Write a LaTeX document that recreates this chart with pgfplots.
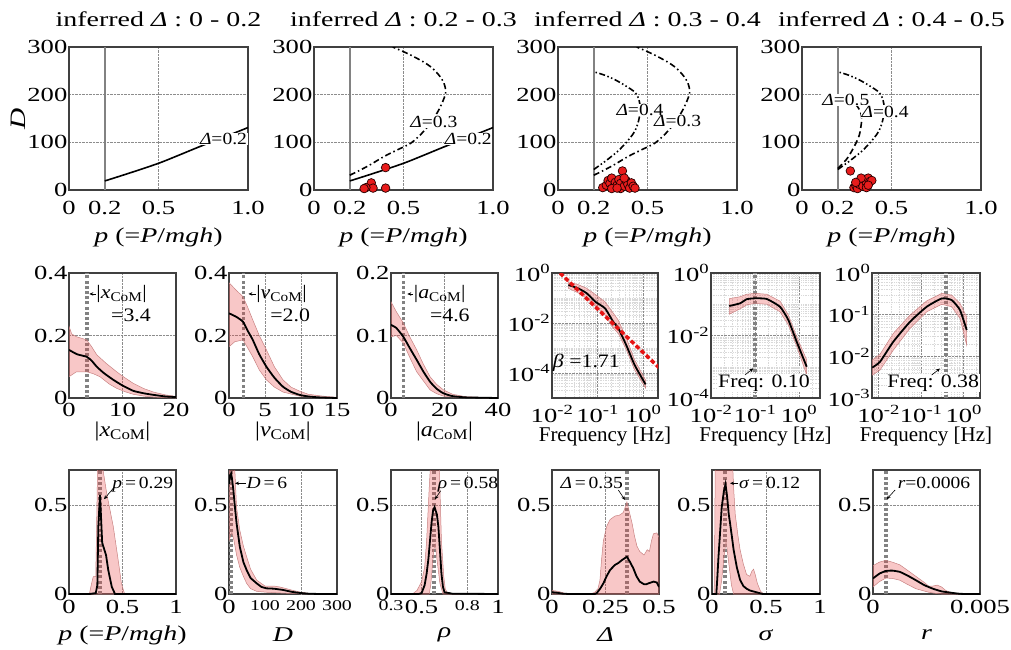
\documentclass[border=0pt]{standalone}
\usepackage{fontspec}
\setmainfont{Liberation Serif}[FakeStretch=1.15]
\newfontfamily\widefont{Liberation Serif}[FakeStretch=1.33]
\newfontfamily\narrowfont{Liberation Serif}
\usepackage{pgfplots}
\pgfplotsset{compat=1.18}
\usetikzlibrary{arrows.meta}
\definecolor{bandc}{RGB}{232,70,70}
\definecolor{bandl}{RGB}{200,130,130}
\definecolor{vgray}{RGB}{130,130,130}
\definecolor{mred}{RGB}{232,28,28}
\definecolor{fitred}{RGB}{230,20,20}
\newcommand\fs[1]{\fontsize{#1}{#1}\selectfont}
\newcommand\sm[1]{{\fs{15}\raisebox{-2.5pt}{#1}}}
\tikzset{
  lab/.style={font=\fs{17}, fill=white, inner sep=0.6pt},
  ann/.style={font=\fs{17}, inner sep=0.5pt},
  annb/.style={font=\fs{19}, inner sep=0.5pt},
  arr/.style={-{Stealth[length=4pt,width=3.5pt]}, line width=0.6pt, black},
}
\pgfplotsset{
  base/.style={scale only axis, anchor=south west,
    axis line style={line width=1.2pt, draw=black!75},
    major tick length=0pt, minor tick length=0pt,
    tick label style={font=\widefont\fs{20}},
    label style={font=\widefont\fs{20}},
    grid style={densely dotted, line width=0.7pt, black!45},
    minor grid style={densely dotted, line width=0.5pt, black!15},
    scaled ticks=false,
    /pgf/number format/assume math mode=true,
    xlabel style={at={(axis description cs:0.5,0)}, anchor=center},
    yticklabel style={inner xsep=1.5pt},
  },
  top/.style={base, width=179pt, height=143pt, xmin=0, xmax=1, ymin=0, ymax=300,
    xtick={0,0.2,0.5,1}, xticklabels={0,0.2,0.5,1.0},
    ytick={0,100,200,300}, yticklabels={0,100,200,300},
    grid=major,
    xlabel={\textit{p} (=\textit{P}/\textit{mgh})}, xlabel style={yshift=-47pt, font=\widefont\fs{21}},
    xticklabel style={yshift=-8pt},
    title style={font=\widefont\fs{21}, at={(axis description cs:0.5,1)}, anchor=center, yshift=22pt},
  },
  mid/.style={base, width=107pt, height=125pt, grid=major,
    xticklabel style={yshift=-2pt}, xlabel style={yshift=-33pt, font=\fs{21}}},
  psd/.style={mid, xmin=0.01, xmax=2.1,
    xtick={0.01,0.1,1}, xticklabels={10\textsuperscript{-2},10\textsuperscript{-1},10\textsuperscript{0}},
    minor xtick={0.007,0.008,0.009,0.02,0.03,0.04,0.05,0.06,0.07,0.08,0.09,0.2,0.3,0.4,0.5,0.6,0.7,0.8,0.9,2},
    xticklabel style={yshift=-2pt},
    grid=both, xlabel={Frequency [Hz]}, xlabel style={yshift=-5pt, font=\narrowfont\fs{21}}},
  bot/.style={base, width=107pt, height=124pt, ymin=0, ymax=0.7, ytick={0,0.5}, yticklabels={0,0.5},
    grid=major, xticklabel style={yshift=-3pt}, xlabel style={yshift=-41pt, font=\widefont\fs{21}}},
  band/.style={fill=bandc, fill opacity=0.3, draw=bandl, line width=0.5pt},
  meanl/.style={black, line width=1.8pt},
  vdot/.style={vgray, line width=3.5pt, dash pattern=on 3pt off 2.2pt},
  vsolid/.style={vgray, line width=1.8pt},
  dd/.style={black, line width=1.6pt, smooth, tension=0.5, dash pattern=on 6pt off 3pt on 1.5pt off 3pt},
  ddd/.style={black, line width=1.6pt, smooth, tension=0.5, dash pattern=on 6pt off 2.5pt on 1.5pt off 2.5pt on 1.5pt off 2.5pt},
  dsh/.style={black, line width=1.6pt, smooth, tension=0.5, dash pattern=on 6pt off 3.5pt},
  sol/.style={black, line width=1.6pt, smooth},
  dots/.style={only marks, mark=*, mark size=4.3pt, mark options={fill=mred, draw=black!85!red, line width=0.7pt}},
}
\pgfplotstableread{
p D
0.2 19
0.35 37
0.5 56
0.62 74
0.73 91
0.86 110
1.0 131
}\curveA
\pgfplotstableread{
p D
0.2 31
0.3 50
0.39 70
0.47 85
0.54 98
0.60 118
0.65 140
0.70 170
0.735 203
0.725 225
0.70 240
0.66 256
0.61 269
0.53 285
0.44 300
}\curveB
\pgfplotstableread{
p D
0.2 43
0.27 62
0.33 80
0.36 91
0.40 108
0.43 124
0.45 145
0.46 170
0.45 192
0.43 205
0.38 218
0.32 231
0.26 241
0.2 248
}\curveC
\pgfplotstableread{
p D
0.2 45
0.25 65
0.29 90
0.32 115
0.333 145
0.33 160
0.31 175
0.26 190
0.2 200
}\curveD
\begin{document}
\begin{tikzpicture}
\useasboundingbox (0,0) rectangle (1011pt,649pt);

% ---------------- top row ----------------
\begin{axis}[top, at={(69pt,459pt)}, title={inferred \textit{Δ} : 0 - 0.2},
  ylabel={\textit{D}}, ylabel style={at={(axis description cs:-0.285,0.5)}, anchor=center, font=\widefont\fs{22}}]
\addplot[vsolid] coordinates {(0.2,0) (0.2,300)};
\addplot[sol] table[x=p,y=D] {\curveA};
\node[lab] at (axis cs:0.863,107) {\textit{Δ}=0.2};
\end{axis}

\begin{axis}[top, at={(314pt,459pt)}, title={inferred \textit{Δ} : 0.2 - 0.3}]
\addplot[vsolid] coordinates {(0.2,0) (0.2,300)};
\addplot[sol] table[x=p,y=D] {\curveA};
\addplot[dd] table[x=p,y=D] {\curveB};
\node[lab] at (axis cs:0.67,143) {\textit{Δ}=0.3};
\node[lab] at (axis cs:0.862,107) {\textit{Δ}=0.2};
\addplot[dots] coordinates {(0.40,47) (0.32,15) (0.33,4) (0.29,5) (0.28,3) (0.40,4)};
\end{axis}

\begin{axis}[top, at={(558pt,459pt)}, title={inferred \textit{Δ} : 0.3 - 0.4}]
\addplot[vsolid] coordinates {(0.2,0) (0.2,300)};
\addplot[dd] table[x=p,y=D] {\curveB};
\addplot[ddd] table[x=p,y=D] {\curveC};
\node[lab] at (axis cs:0.458,168) {\textit{Δ}=0.4};
\node[lab] at (axis cs:0.668,144) {\textit{Δ}=0.3};
\addplot[dots] coordinates {(0.25,5) (0.27,10) (0.28,20) (0.29,14) (0.30,25) (0.31,6) (0.32,16) (0.33,10) (0.34,22) (0.35,3) (0.35,14) (0.36,40) (0.37,8) (0.38,20) (0.39,12) (0.40,4) (0.41,15) (0.42,8) (0.43,4) (0.30,3) (0.37,25) (0.33,4)};
\end{axis}

\begin{axis}[top, at={(802pt,459pt)}, title={inferred \textit{Δ} : 0.4 - 0.5}]
\addplot[vsolid] coordinates {(0.2,0) (0.2,300)};
\addplot[ddd] table[x=p,y=D] {\curveC};
\addplot[dsh] table[x=p,y=D] {\curveD};
\node[lab] at (axis cs:0.245,189) {\textit{Δ}=0.5};
\node[lab] at (axis cs:0.464,164) {\textit{Δ}=0.4};
\addplot[dots] coordinates {(0.27,40) (0.29,5) (0.30,10) (0.31,3) (0.32,12) (0.33,18) (0.34,8) (0.35,22) (0.36,14) (0.37,25) (0.38,18) (0.39,20) (0.36,5) (0.33,25) (0.30,16) (0.37,10)};
\end{axis}

% ---------------- middle row ----------------
\begin{axis}[mid, at={(69pt,251pt)}, xmin=0, xmax=20, ymin=0, ymax=0.4,
  xtick={0,10,20}, xticklabels={0,10,20}, ytick={0,0.2,0.4}, yticklabels={0,0.2,0.4},
  xlabel={|\textit{x}\textsubscript{CoM}|}]
\addplot[vdot] coordinates {(3.4,0) (3.4,0.4)};
\addplot[band] coordinates {(0,0.23) (0.5,0.205) (1.4,0.196) (3.3,0.186) (4.2,0.165) (5.2,0.138) (7,0.11) (8.9,0.084) (10,0.07) (12,0.047) (14,0.03) (15.8,0.019) (18,0.01) (20,0.005)
 (20,0) (18,0.001) (15.8,0.003) (14,0.006) (12,0.012) (10.5,0.02) (8.9,0.031) (7.5,0.045) (5.8,0.068) (4.5,0.078) (3.3,0.084) (1.4,0.084) (0,0.068)} -- cycle;
\addplot[meanl, smooth, tension=0.3] coordinates {(0,0.154) (1.5,0.14) (3.3,0.132) (4.2,0.12) (5.2,0.10) (6.5,0.08) (8.3,0.058) (10,0.04) (12,0.023) (14,0.015) (15.8,0.01) (18,0.005) (20,0.003)};
\draw[arr] (axis cs:5.0,0.333) -- (axis cs:3.8,0.333);
\node[annb, anchor=west] at (axis cs:5.0,0.333) {|\textit{x}\textsubscript{CoM}|};
\node[annb] at (axis cs:11.6,0.266) {=3.4};
\end{axis}

\begin{axis}[mid, at={(229pt,251pt)}, width=108pt, xmin=0, xmax=15, ymin=0, ymax=0.4,
  xtick={0,5,10,15}, xticklabels={0,5,10,15}, ytick={0,0.2,0.4}, yticklabels={0,0.2,0.4},
  xlabel={|\textit{v}\textsubscript{CoM}|}]
\addplot[vdot] coordinates {(2.0,0) (2.0,0.4)};
\addplot[band] coordinates {(0,0.369) (1,0.345) (1.95,0.324) (2.6,0.29) (3.3,0.25) (4.2,0.2) (5.2,0.154) (6.3,0.1) (7.5,0.058) (8.6,0.035) (9.8,0.022) (11,0.012) (13,0.006) (15,0.002)
 (15,0) (12,0.001) (9.8,0.006) (7.5,0.019) (6.3,0.035) (5.2,0.058) (4.2,0.09) (3.3,0.132) (2.6,0.16) (1.95,0.186) (0.8,0.18) (0,0.164)} -- cycle;
\addplot[meanl, smooth, tension=0.3] coordinates {(0,0.271) (1,0.26) (1.95,0.244) (2.6,0.215) (3.3,0.186) (4.2,0.14) (5.2,0.10) (6.3,0.065) (7.5,0.036) (8.6,0.02) (9.8,0.01) (11,0.005) (12.5,0.002) (15,0)};
\draw[arr] (axis cs:3.7,0.333) -- (axis cs:2.7,0.333);
\node[annb, anchor=west] at (axis cs:3.7,0.333) {|\textit{v}\textsubscript{CoM}|};
\node[annb] at (axis cs:8.5,0.266) {=2.0};
\end{axis}

\begin{axis}[mid, at={(391pt,251pt)}, xmin=0, xmax=40, ymin=0, ymax=0.2,
  xtick={0,20,40}, xticklabels={0,20,40}, ytick={0,0.1,0.2}, yticklabels={0,0.1,0.2},
  xlabel={|\textit{a}\textsubscript{CoM}|}]
\addplot[vdot] coordinates {(4.6,0) (4.6,0.2)};
\addplot[band] coordinates {(0,0.154) (2,0.138) (4.6,0.12) (7,0.098) (9.6,0.077) (12,0.055) (14.6,0.034) (17,0.022) (19.6,0.013) (23,0.006) (28,0.002) (40,0)
 (40,0) (25,0.001) (19.6,0.003) (17,0.007) (14.6,0.013) (12,0.028) (9.6,0.042) (7,0.065) (4.6,0.088) (2,0.1) (0,0.098)} -- cycle;
\addplot[meanl, smooth, tension=0.3] coordinates {(0,0.117) (2,0.112) (4.6,0.098) (7,0.08) (9.6,0.061) (12,0.043) (14.6,0.026) (17,0.015) (19.6,0.0075) (23,0.003) (28,0.001) (40,0)};
\draw[arr] (axis cs:8.3,0.1664) -- (axis cs:6.1,0.1664);
\node[annb, anchor=west] at (axis cs:8.3,0.1664) {|\textit{a}\textsubscript{CoM}|};
\node[annb] at (axis cs:22,0.133) {=4.6};
\end{axis}

\begin{loglogaxis}[psd, at={(552pt,251pt)}, width=106pt, ymin=1e-5, ymax=1,
  ytick={1e-4,1e-2,1}, yticklabels={10\textsuperscript{-4},10\textsuperscript{-2},10\textsuperscript{0}},
  minor ytick={2e-5,3e-5,4e-5,5e-5,6e-5,7e-5,8e-5,9e-5,2e-4,3e-4,4e-4,5e-4,6e-4,7e-4,8e-4,9e-4,1e-3,2e-3,3e-3,4e-3,5e-3,6e-3,7e-3,8e-3,9e-3,2e-2,3e-2,4e-2,5e-2,6e-2,7e-2,8e-2,9e-2,1e-1,2e-1,3e-1,4e-1,5e-1,6e-1,7e-1,8e-1,9e-1}]
\addplot[band] coordinates {(0.0229,0.447) (0.038,0.339) (0.0575,0.245) (0.0891,0.138) (0.1445,0.0708) (0.219,0.025) (0.282,0.0132) (0.427,0.00245) (0.646,3.3e-4) (1.12,5.2e-5)
 (1.12,2.5e-5) (0.646,1.32e-4) (0.427,8.3e-4) (0.282,0.00389) (0.219,0.0063) (0.1445,0.0209) (0.0891,0.0468) (0.0575,0.0977) (0.038,0.158) (0.0229,0.245)} -- cycle;
\addplot[meanl, smooth, tension=0.3] coordinates {(0.0229,0.331) (0.038,0.24) (0.0575,0.155) (0.0891,0.0708) (0.1445,0.0389) (0.219,0.0112) (0.282,0.0063) (0.427,0.00126) (0.646,2.09e-4) (1.12,3.5e-5)};
\addplot[fitred, line width=3.5pt, dash pattern=on 4.5pt off 2.5pt] coordinates {(0.01496,1.0) (2.29,1.55e-4)};
\node[annb] at (axis cs:0.0566,2.5e-4) {\textit{β} =1.71};
\end{loglogaxis}

\begin{loglogaxis}[psd, at={(711pt,251pt)}, width=109pt, xmax=3.0, ymin=1e-4, ymax=1,
  ytick={1e-4,1e-2,1}, yticklabels={10\textsuperscript{-4},10\textsuperscript{-2},10\textsuperscript{0}},
  minor ytick={2e-4,3e-4,4e-4,5e-4,6e-4,7e-4,8e-4,9e-4,1e-3,2e-3,3e-3,4e-3,5e-3,6e-3,7e-3,8e-3,9e-3,2e-2,3e-2,4e-2,5e-2,6e-2,7e-2,8e-2,9e-2,1e-1,2e-1,3e-1,4e-1,5e-1,6e-1,7e-1,8e-1,9e-1}]
\addplot[vdot] coordinates {(0.1,1e-4) (0.1,1)};
\addplot[band] coordinates {(0.026,0.151) (0.0456,0.174) (0.0647,0.209) (0.1,0.224) (0.1845,0.209) (0.37,0.126) (0.571,0.0457) (0.887,0.0091) (1.496,0.00166)
 (1.496,5.5e-4) (0.887,0.00447) (0.571,0.0219) (0.37,0.0575) (0.1845,0.1) (0.1,0.107) (0.0647,0.0955) (0.0456,0.0708) (0.026,0.0479)} -- cycle;
\addplot[meanl, smooth, tension=0.3] coordinates {(0.026,0.0879) (0.0456,0.107) (0.0647,0.145) (0.1,0.155) (0.1845,0.148) (0.37,0.0832) (0.571,0.0316) (0.887,0.0063) (1.496,0.001)};
\node[annb, fill=white] at (axis cs:0.160,2.95e-4) {Freq: 0.10};
\draw[arr] (axis cs:0.0593,5.5e-4) -- (axis cs:0.0914,8.9e-4);
\end{loglogaxis}

\begin{loglogaxis}[psd, at={(872pt,251pt)}, width=108pt, xmin=0.007, xmax=2.4, ymin=1e-3, ymax=1,
  ytick={1e-3,1e-2,1e-1,1}, yticklabels={10\textsuperscript{-3},10\textsuperscript{-2},10\textsuperscript{-1},10\textsuperscript{0}},
  minor ytick={2e-3,3e-3,4e-3,5e-3,6e-3,7e-3,8e-3,9e-3,2e-2,3e-2,4e-2,5e-2,6e-2,7e-2,8e-2,9e-2,2e-1,3e-1,4e-1,5e-1,6e-1,7e-1,8e-1,9e-1}]
\addplot[vdot] coordinates {(0.38,1e-3) (0.38,1)};
\addplot[band] coordinates {(0.0071,0.00813) (0.0108,0.0112) (0.0221,0.0355) (0.0546,0.0977) (0.1346,0.214) (0.303,0.324) (0.52,0.295) (0.815,0.186) (1.17,0.0891)
 (1.17,0.0186) (0.815,0.0813) (0.52,0.155) (0.303,0.178) (0.1346,0.117) (0.0546,0.0468) (0.0221,0.0141) (0.0108,0.00468) (0.0071,0.00355)} -- cycle;
\addplot[meanl, smooth, tension=0.3] coordinates {(0.0071,0.00537) (0.0108,0.00741) (0.0221,0.0224) (0.0546,0.0676) (0.1346,0.155) (0.303,0.245) (0.52,0.224) (0.815,0.129) (1.17,0.0427)};
\node[annb, fill=white] at (axis cs:0.192,2.25e-3) {Freq: 0.38};
\draw[arr] (axis cs:0.176,3.56e-3) -- (axis cs:0.276,5.1e-3);
\end{loglogaxis}

% ---------------- bottom row ----------------
\begin{axis}[bot, at={(69pt,55pt)}, xmin=0, xmax=1, xtick={0,0.5,1}, xticklabels={0,0.5,1},
  xlabel={\textit{p} (=\textit{P}/\textit{mgh})}]
\addplot[vdot] coordinates {(0.29,0) (0.29,0.7)};
\addplot[band] coordinates {(0.19,0) (0.215,0.07) (0.227,0.098) (0.25,0.098) (0.268,0.75) (0.305,0.75) (0.352,0.57) (0.414,0.38) (0.46,0.19) (0.49,0.06) (0.52,0)} -- cycle;
\addplot[meanl] coordinates {(0,0) (0.19,0) (0.25,0.005) (0.265,0.05) (0.274,0.38) (0.29,0.56) (0.31,0.29) (0.32,0.27) (0.346,0.22) (0.367,0.135) (0.40,0.04) (0.43,0) (1,0)};
\node[ann] at (axis cs:0.69,0.615) {\textit{p}\,=\,0.29};
\draw[arr] (axis cs:0.414,0.597) -- (axis cs:0.327,0.535);
\end{axis}

\begin{axis}[bot, at={(229pt,55pt)}, width=108pt, xmin=0, xmax=300, xtick={0,100,200,300},
  xticklabels={0,\sm{100},\sm{200},\sm{300}}, xmajorgrids=false,
  extra x ticks={200}, extra x tick labels={}, extra x tick style={grid=major},
  xlabel={\textit{D}}]
\addplot[vdot] coordinates {(6,0) (6,0.7)};
\addplot[band] coordinates {(0,0.75) (15,0.75) (21,0.49) (30,0.36) (40,0.27) (49,0.21) (60,0.14) (77,0.078) (100,0.045) (125,0.045) (140,0.04) (160,0.03) (178,0.02) (200,0.01) (220,0.004) (240,0)
 (200,0.001) (150,0.005) (104,0.01) (77,0.015) (60,0.03) (49,0.06) (40,0.1) (30,0.15) (21,0.22) (14,0.3) (8,0.35) (0,0.3)} -- cycle;
\addplot[meanl] coordinates {(0,0.62) (3,0.67) (6,0.68) (9,0.64) (12,0.59) (16,0.5) (21,0.40) (30,0.267) (40,0.18) (49,0.135) (60,0.09) (77,0.06) (90,0.04) (104,0.032) (125,0.03) (150,0.023) (175,0.012) (197,0.006) (220,0.002) (250,0) (300,0)};
\draw[arr] (axis cs:47,0.625) -- (axis cs:16.7,0.625);
\node[ann, anchor=west] at (axis cs:47,0.625) {\textit{D}\,=\,6};
\end{axis}

\begin{axis}[bot, at={(391pt,55pt)}, xmin=0.3, xmax=1, xtick={0.3,0.5,0.8,1},
  xticklabels={\sm{0.3},0.5,\sm{0.8},1}, xlabel={\textit{ρ}}]
\addplot[vdot] coordinates {(0.58,0) (0.58,0.7)};
\addplot[band] coordinates {(0.44,0) (0.47,0.02) (0.50,0.07) (0.52,0.15) (0.533,0.3) (0.55,0.6) (0.56,0.75) (0.615,0.75) (0.625,0.45) (0.63,0.3) (0.645,0.1) (0.655,0.03) (0.67,0.005) (0.75,0)
 (0.64,0) (0.62,0.06) (0.60,0.2) (0.59,0.28) (0.58,0.25) (0.57,0.15) (0.56,0.05) (0.55,0)} -- cycle;
\addplot[meanl] coordinates {(0.3,0) (0.48,0) (0.5,0.005) (0.52,0.05) (0.533,0.115) (0.545,0.2) (0.555,0.30) (0.565,0.4) (0.575,0.47) (0.585,0.49) (0.60,0.45) (0.61,0.38) (0.62,0.25) (0.63,0.115) (0.64,0.04) (0.65,0.01) (0.70,0.002) (1,0)};
\node[ann] at (axis cs:0.804,0.615) {\textit{ρ}\,=\,0.58};
\draw[arr] (axis cs:0.625,0.583) -- (axis cs:0.588,0.535);
\end{axis}

\begin{axis}[bot, at={(552pt,55pt)}, xmin=0, xmax=0.5, xtick={0,0.25,0.5}, xticklabels={0,0.25,0.5},
  xlabel={\textit{Δ}}]
\addplot[vdot] coordinates {(0.35,0) (0.35,0.7)};
\addplot[band] coordinates {(0,0.02) (0.03,0.015) (0.06,0.004) (0.1,0) (0.18,0) (0.2,0.01) (0.215,0.03) (0.224,0.078) (0.232,0.2) (0.24,0.30) (0.255,0.38) (0.271,0.42) (0.294,0.44) (0.315,0.445) (0.333,0.46) (0.345,0.5) (0.35,0.52) (0.36,0.47) (0.374,0.40) (0.385,0.33) (0.397,0.27) (0.41,0.24) (0.43,0.22) (0.445,0.25) (0.455,0.24) (0.465,0.30) (0.474,0.34) (0.49,0.345) (0.5,0.32)
 (0.5,0) (0,0)} -- cycle;
\addplot[meanl] coordinates {(0,0.01) (0.02,0.008) (0.05,0.002) (0.08,0) (0.2,0) (0.209,0.005) (0.225,0.03) (0.24,0.06) (0.255,0.1) (0.271,0.135) (0.294,0.164) (0.31,0.175) (0.325,0.19) (0.35,0.21) (0.365,0.18) (0.38,0.145) (0.395,0.1) (0.41,0.07) (0.43,0.055) (0.44,0.055) (0.455,0.062) (0.475,0.07) (0.49,0.065) (0.5,0.04)};
\node[ann] at (axis cs:0.1855,0.625) {\textit{Δ}\,=\,0.35};
\draw[arr] (axis cs:0.31,0.587) -- (axis cs:0.341,0.531);
\end{axis}

\begin{axis}[bot, at={(712pt,55pt)}, width=108pt, xmin=0, xmax=1, xtick={0,0.5,1}, xticklabels={0,0.5,1},
  xlabel={\textit{σ}}]
\addplot[vdot] coordinates {(0.12,0) (0.12,0.7)};
\addplot[band] coordinates {(0.02,0) (0.025,0.3) (0.03,0.75) (0.19,0.75) (0.2,0.6) (0.215,0.45) (0.24,0.33) (0.26,0.25) (0.29,0.17) (0.32,0.11) (0.35,0.1) (0.37,0.13) (0.385,0.14) (0.4,0.11) (0.42,0.06) (0.45,0.015) (0.48,0)
 (0.2,0) (0.18,0.05) (0.16,0.15) (0.13,0.3) (0.11,0.2) (0.09,0.08) (0.07,0)} -- cycle;
\addplot[meanl] coordinates {(0,0) (0.04,0) (0.05,0.1) (0.06,0.21) (0.075,0.35) (0.09,0.49) (0.11,0.58) (0.125,0.62) (0.14,0.55) (0.155,0.45) (0.167,0.40) (0.185,0.32) (0.2,0.25) (0.23,0.15) (0.26,0.08) (0.29,0.045) (0.32,0.03) (0.35,0.02) (0.38,0.015) (0.41,0.01) (0.44,0.005) (0.47,0) (1,0)};
\draw[arr] (axis cs:0.244,0.625) -- (axis cs:0.167,0.625);
\node[ann, anchor=west] at (axis cs:0.244,0.625) {\textit{σ}\,=\,0.12};
\end{axis}

\begin{axis}[bot, at={(873pt,55pt)}, xmin=0, xmax=0.005, xtick={0,0.005}, xticklabels={0,0.005},
  xlabel={\textit{r}}]
\addplot[vdot] coordinates {(0.0006,0) (0.0006,0.7)};
\addplot[band] coordinates {(0,0.16) (0.0003,0.18) (0.0006,0.19) (0.0009,0.18) (0.00125,0.165) (0.0016,0.135) (0.002,0.1) (0.0024,0.065) (0.0026,0.045) (0.0028,0.045) (0.003,0.05) (0.0032,0.04) (0.0034,0.02) (0.0037,0.005) (0.004,0)
 (0.0032,0) (0.003,0.002) (0.0026,0.01) (0.002,0.03) (0.0016,0.055) (0.00125,0.078) (0.0009,0.088) (0.0006,0.09) (0.0003,0.07) (0,0.04)} -- cycle;
\addplot[meanl, smooth, tension=0.3] coordinates {(0,0.088) (0.0003,0.115) (0.0006,0.13) (0.0009,0.132) (0.00125,0.125) (0.0016,0.105) (0.002,0.078) (0.0024,0.05) (0.0028,0.03) (0.0032,0.015) (0.0036,0.008) (0.004,0.002) (0.0043,0) (0.005,0)};
\node[ann] at (axis cs:0.00285,0.625) {\textit{r}=0.0006};
\draw[arr] (axis cs:0.00103,0.587) -- (axis cs:0.00064,0.535);
\end{axis}
\end{tikzpicture}
\end{document}
